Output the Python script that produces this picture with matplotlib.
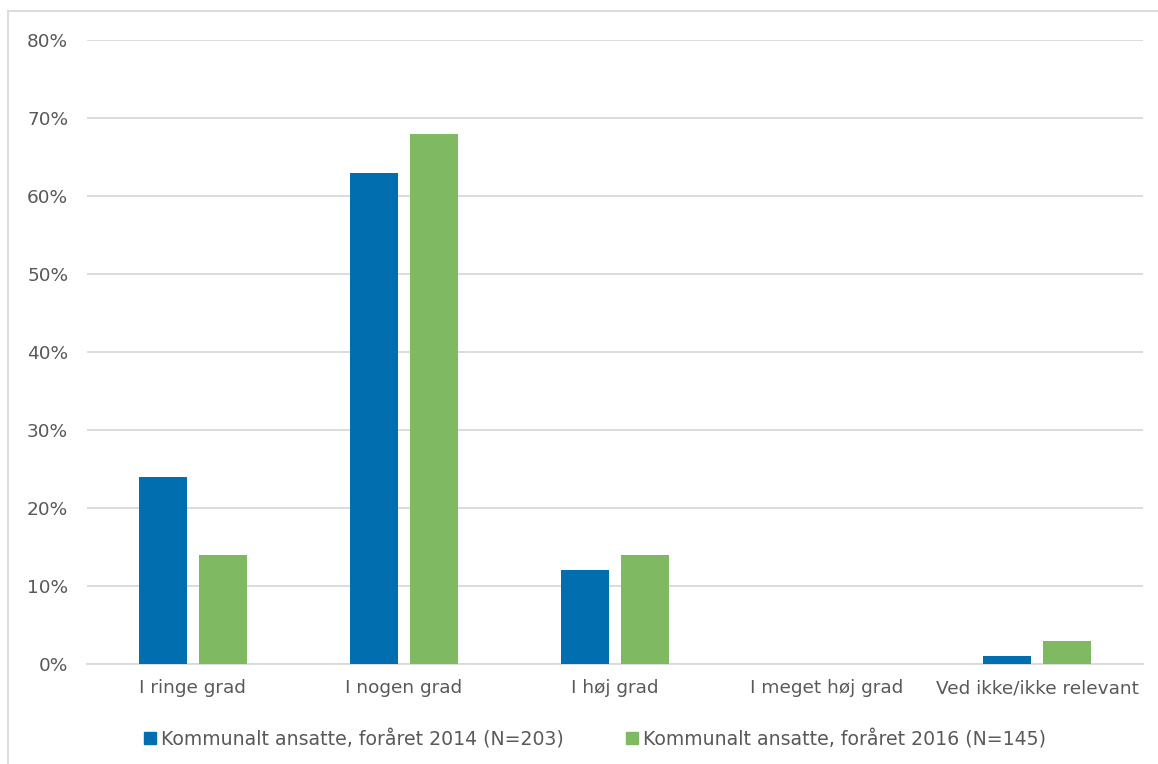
import numpy as np
import matplotlib.pyplot as plt
from matplotlib.lines import Line2D

categories = ["I ringe grad", "I nogen grad", "I høj grad", "I meget høj grad",
              "Ved ikke/ikke relevant"]
ansatte_2014 = [24, 63, 12, 0, 1]
ansatte_2016 = [14, 68, 14, 0, 3]
labels = ["Kommunalt ansatte, foråret 2014 (N=203)",
          "Kommunalt ansatte, foråret 2016 (N=145)"]

blue = "#006EAF"
green = "#7FBA63"
text_col = "#595959"
grid_col = "#D9D9D9"

plt.rcParams["font.family"] = ["DejaVu Sans"]

fig = plt.figure(figsize=(11.58, 7.64), dpi=100)
ax = fig.add_axes([87 / 1158, 1 - 664 / 764, 1056 / 1158, 624 / 764])

x = np.arange(len(categories))
w = 0.227
off = 0.142
ax.bar(x - off, ansatte_2014, width=w, color=blue, label=labels[0], zorder=3)
ax.bar(x + off, ansatte_2016, width=w, color=green, label=labels[1], zorder=3)

ax.set_xlim(-0.5, len(categories) - 0.5)
ax.set_ylim(0, 80)
ax.set_yticks(range(0, 81, 10))
ax.set_yticklabels([f"{v}%" for v in range(0, 81, 10)])
ax.set_xticks(x)
ax.set_xticklabels(categories)
ax.tick_params(axis="both", length=0, labelsize=13.3, colors=text_col)
ax.tick_params(axis="y", pad=13.5)
ax.tick_params(axis="x", pad=11)
ax.grid(axis="y", color=grid_col, linewidth=1.3, zorder=0)
for s in ["top", "right", "left"]:
    ax.spines[s].set_visible(False)
ax.spines["bottom"].set_color(grid_col)
ax.spines["bottom"].set_linewidth(1.3)

handles = [Line2D([], [], marker="s", linestyle="none", markersize=8,
                  color=c) for c in (blue, green)]
fig.legend(handles, labels, loc="center", bbox_to_anchor=(594 / 1158, 1 - 739 / 764),
           ncol=2, frameon=False, fontsize=13.6, labelcolor=text_col,
           handletextpad=0.2, columnspacing=3.2, handlelength=0.8)

# outer frame (only top and left edges fall inside the image)
fig.add_artist(Line2D([8 / 1158, 1], [1 - 11 / 764, 1 - 11 / 764],
                      color=grid_col, linewidth=1.3))
fig.add_artist(Line2D([8 / 1158, 8 / 1158], [0, 1 - 11 / 764],
                      color=grid_col, linewidth=1.3))

fig.savefig("out.png", dpi=100)
